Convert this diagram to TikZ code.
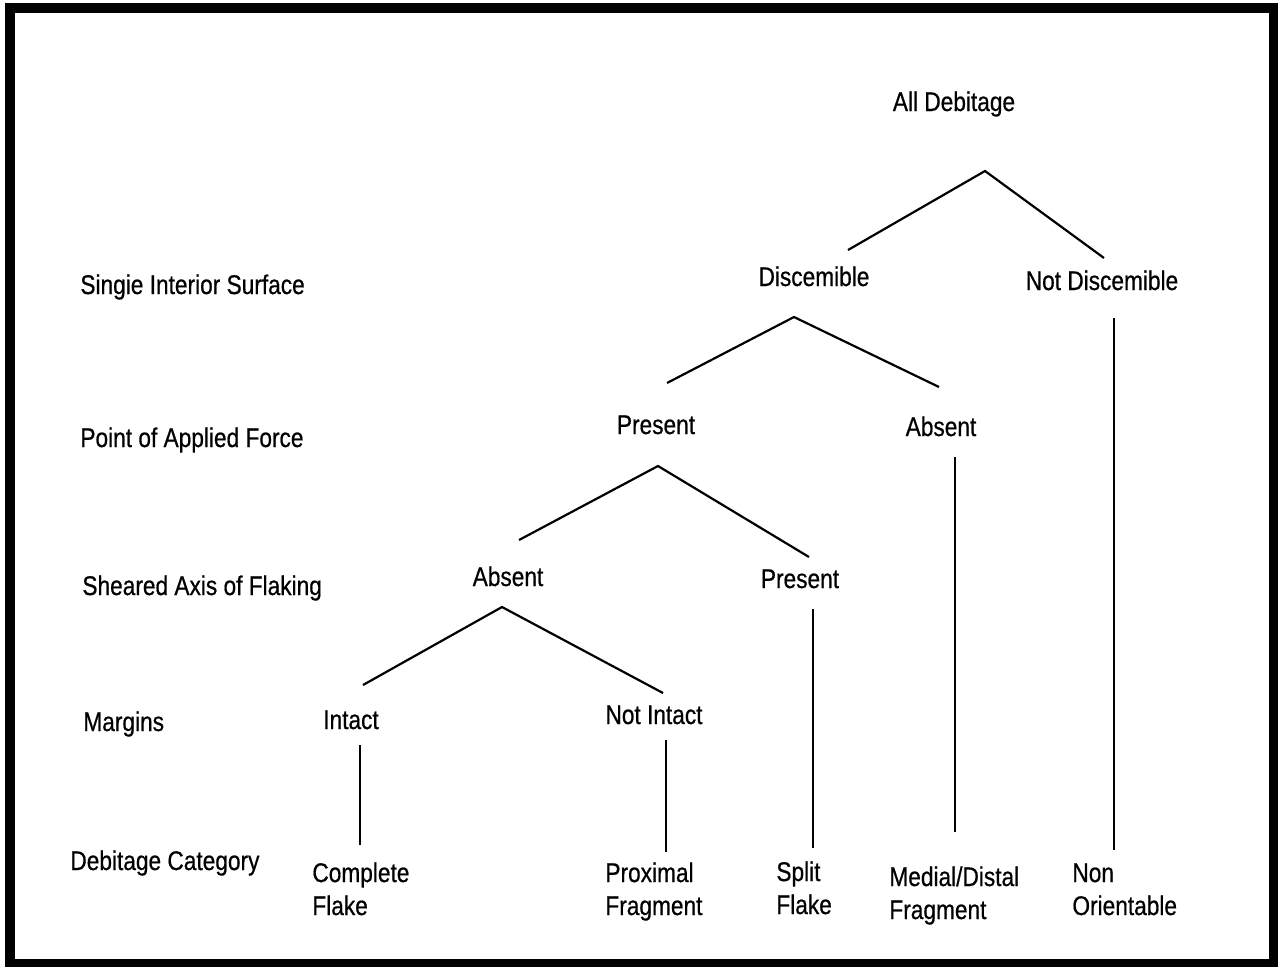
\documentclass[tikz,border=0pt]{standalone}
\usepackage{fontspec}
\setmainfont{Liberation Sans}[FakeStretch=0.84, FakeBold=0.6]
\usetikzlibrary{positioning}

\begin{document}
\begin{tikzpicture}[x=0.5pt, y=-0.5pt,
    every node/.style={font=\fontsize{13.5}{16.5}\selectfont, inner sep=0pt},
    level/.style={anchor=base west},
    choice/.style={anchor=base},
    category/.style={anchor=base west, align=left},
    branch/.style={line width=1.1pt}]
    \useasboundingbox (0,0) rectangle (1278,966);
    \draw[line width=5pt] (10,8) rectangle (1274,964);

    % --- criteria on the left ---
    \node[level] (crit1) at (80,294) {Singie Interior Surface};
    \node[level] (crit2) at (80,447) {Point of Applied Force};
    \node[level] (crit3) at (82,595) {Sheared Axis of Flaking};
    \node[level] (crit4) at (83,731) {Margins};
    \node[level] (crit5) at (70,870) {Debitage Category};

    % --- decisions ---
    \node[choice] (all) at (954,111) {All Debitage};
    \node[choice] (disc) at (814,286) {Discemible};
    \node[choice] (ndisc) at (1102,290) {Not Discemible};
    \node[choice] (pres) at (656,434) {Present};
    \node[choice] (abs) at (941,436) {Absent};
    \node[choice] (shabs) at (508,586) {Absent};
    \node[choice] (shpres) at (800,588) {Present};
    \node[choice] (int) at (351,729) {Intact};
    \node[choice] (nint) at (654,724) {Not Intact};

    % --- categories (base = second line) ---
    \node[category] (cflake) at (312,915) {Complete\\Flake};
    \node[category] (prox) at (605,915) {Proximal\\Fragment};
    \node[category] (split) at (776,914) {Split\\Flake};
    \node[category] (medial) at (889,919) {Medial/Distal\\Fragment};
    \node[category] (nonor) at (1072,915) {Non\\Orientable};

    % --- branch points ---
    \coordinate (all-fork) at (985,171);
    \coordinate (disc-in) at (848,250);
    \coordinate (ndisc-in) at (1104,258);
    \coordinate (disc-fork) at (794,317);
    \coordinate (pres-in) at (667,383);
    \coordinate (abs-in) at (939,387);
    \coordinate (pres-fork) at (658,466);
    \coordinate (shabs-in) at (519,540);
    \coordinate (shpres-in) at (809,557);
    \coordinate (shabs-fork) at (502,607);
    \coordinate (int-in) at (363,685);
    \coordinate (nint-in) at (663,693);
    % vertical runs
    \coordinate (ndisc-out) at (1114,318);
    \coordinate (nonor-in) at (1114,850);
    \coordinate (abs-out) at (955,457);
    \coordinate (medial-in) at (955,832);
    \coordinate (shpres-out) at (813,609);
    \coordinate (split-in) at (813,848);
    \coordinate (int-out) at (360,745);
    \coordinate (cflake-in) at (360,845);
    \coordinate (nint-out) at (666,740);
    \coordinate (prox-in) at (666,852);

    \draw[branch] (disc-in) -- (all-fork) -- (ndisc-in);
    \draw[branch] (pres-in) -- (disc-fork) -- (abs-in);
    \draw[branch] (shabs-in) -- (pres-fork) -- (shpres-in);
    \draw[branch] (int-in) -- (shabs-fork) -- (nint-in);
    \draw[branch] (ndisc-out) -- (nonor-in);
    \draw[branch] (abs-out) -- (medial-in);
    \draw[branch] (shpres-out) -- (split-in);
    \draw[branch] (int-out) -- (cflake-in);
    \draw[branch] (nint-out) -- (prox-in);
\end{tikzpicture}
\end{document}
